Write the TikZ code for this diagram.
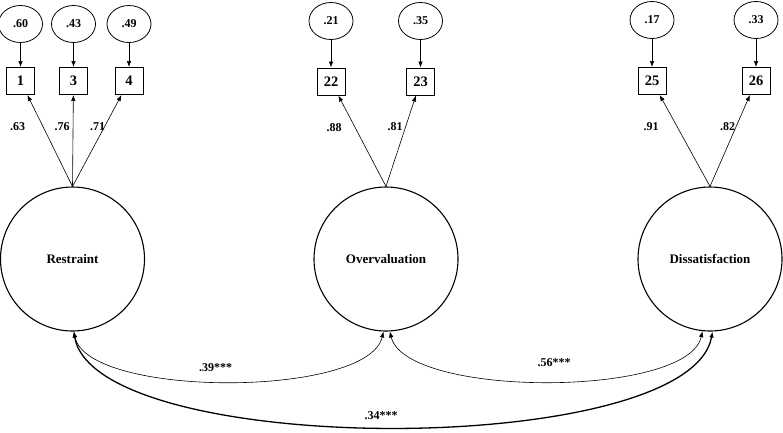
\documentclass[tikz,border=0pt]{standalone}
\usepackage{fontspec}
\setmainfont{Liberation Serif}
\usetikzlibrary{arrows.meta,shapes.geometric}
\begin{document}
\begin{tikzpicture}[x=1pt,y=-1pt,
 latent/.style={draw,circle,line width=1.1pt,minimum size=144pt,inner sep=0pt,font=\fontsize{13}{15}\selectfont\bfseries},
 obs/.style={draw,rectangle,line width=1pt,minimum width=28pt,minimum height=27pt,inner sep=0pt,font=\fontsize{14.5}{16}\selectfont\bfseries},
 err/.style={draw,ellipse,line width=0.8pt,minimum width=44pt,minimum height=37pt,inner sep=0pt,font=\fontsize{12}{13}\selectfont\bfseries},
 coef/.style={font=\fontsize{12}{13}\selectfont\bfseries,inner sep=0pt},
 tip/.tip={Latex[length=6pt,width=4.5pt]},
 pathline/.style={line width=0.6pt,-tip},
 covline/.style={line width=0.6pt,tip-tip},
 covthick/.style={line width=1.3pt,tip-tip},
]
\useasboundingbox (0,0) rectangle (783,432);

% latent factors
\node[latent] (R) at (72.5,259) {Restraint};
\node[latent] (O) at (386,259) {Overvaluation};
\node[latent] (D) at (710,259) {Dissatisfaction};

% observed items
\node[obs] (b1) at (20.5,81) {1};
\node[obs] (b3) at (73.5,81) {3};
\node[obs] (b4) at (129,81) {4};
\node[obs] (b22) at (331,81.5) {22};
\node[obs] (b23) at (420.5,81.5) {23};
\node[obs] (b25) at (652,81) {25};
\node[obs] (b26) at (756,81) {26};

% error terms
\node[err] (e1) at (20.5,24) {.60};
\node[err] (e3) at (73.5,24) {.43};
\node[err] (e4) at (129,24) {.49};
\node[err] (e22) at (331,21) {.21};
\node[err] (e23) at (420.5,21) {.35};
\node[err] (e25) at (652,20) {.17};
\node[err] (e26) at (756,20) {.33};

\foreach \i in {1,3,4,22,23,25,26}{
  \draw[pathline] (e\i) -- (b\i);
}

% loadings
\draw[pathline] (R.north) -- (b1);
\draw[pathline] (R.north) -- (b3);
\draw[pathline] (R.north) -- (b4);
\draw[pathline] (O.north) -- (b22);
\draw[pathline] (O.north) -- (b23);
\draw[pathline] (D.north) -- (b25);
\draw[pathline] (D.north) -- (b26);

\node[coef] (l1) at (17.5,127) {.63};
\node[coef] (l3) at (62,127) {.76};
\node[coef] (l4) at (97.5,127) {.71};
\node[coef] (l22) at (334,128) {.88};
\node[coef] (l23) at (395,127) {.81};
\node[coef] (l25) at (651,127) {.91};
\node[coef] (l26) at (727.5,127) {.82};

% covariances
\draw[covline] (R.271) .. controls (88,398) and (368,398) .. (O.268);
\draw[covline] (O.273) .. controls (406,398) and (688,398) .. (D.264);
\draw[covthick] (R.271) .. controls (95,459) and (690,459) .. (D.272);

\node[coef] (c1) at (215.5,368) {.39***};
\node[coef] (c2) at (554,363) {.56***};
\node[coef] (c3) at (381,416) {.34***};
\end{tikzpicture}
\end{document}
